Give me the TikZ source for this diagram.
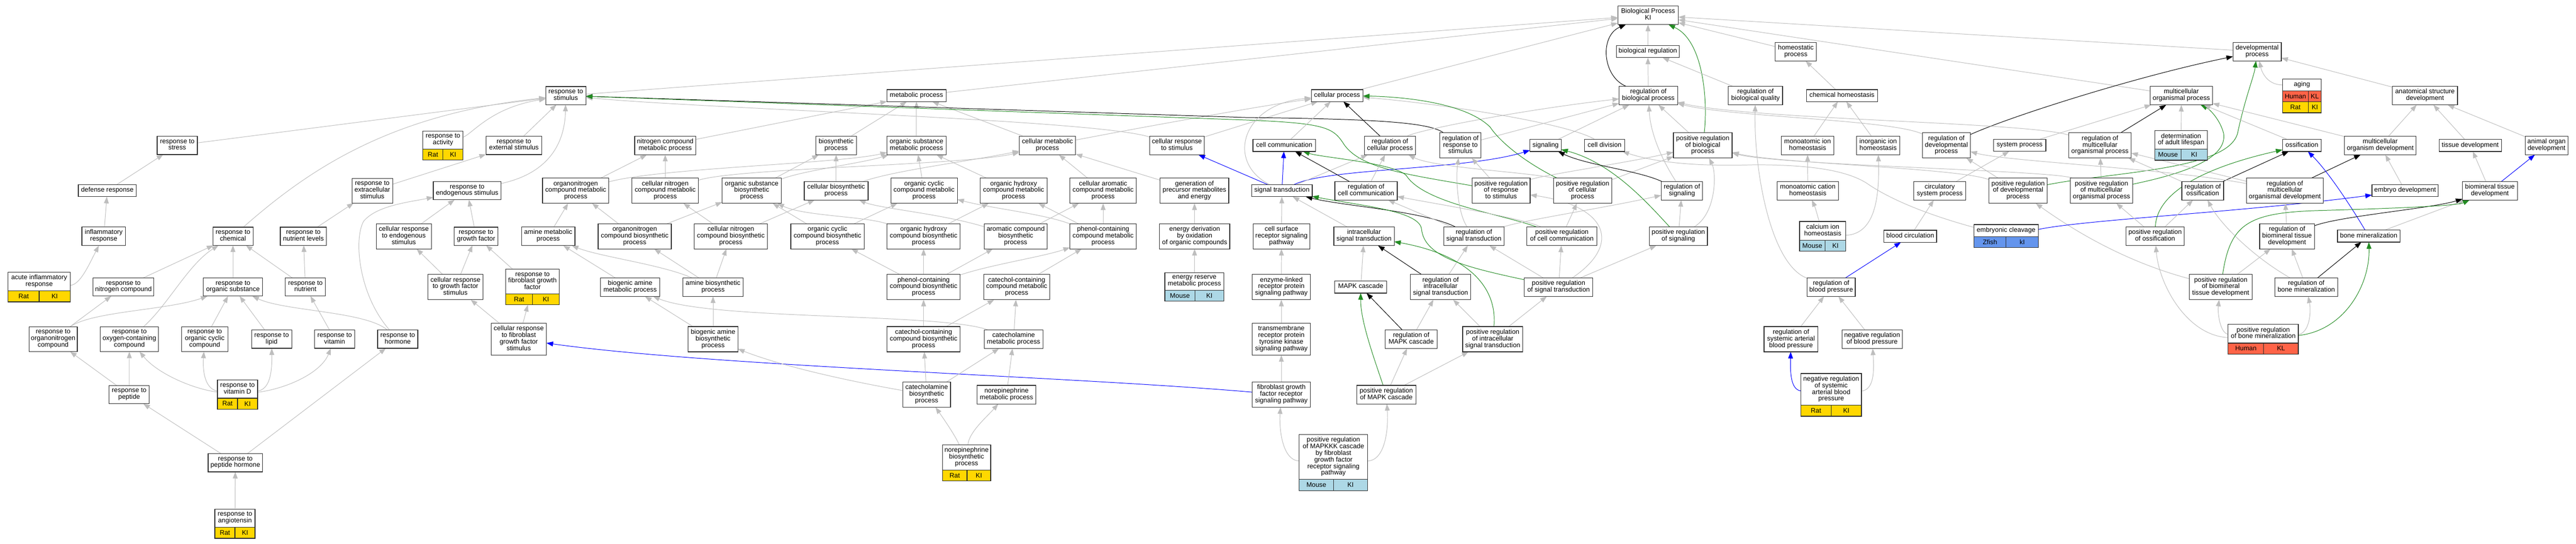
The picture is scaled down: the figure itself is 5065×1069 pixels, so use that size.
\documentclass[tikz,border=0pt]{standalone}
\usepackage{fontspec}
\setmainfont{Liberation Sans}
\usetikzlibrary{arrows.meta,fit}
\pgfdeclarelayer{bg}
\pgfdeclarelayer{edges}
\pgfsetlayers{bg,edges,main}
\definecolor{edgegray}{HTML}{BEBEBE}
\definecolor{nodeborder}{HTML}{2B2B2B}
\definecolor{greenc}{HTML}{228B22}
\definecolor{bluec}{HTML}{0000FF}
\definecolor{ratc}{HTML}{FFD700}
\definecolor{mousec}{HTML}{ADD8E6}
\definecolor{zfishc}{HTML}{6495ED}
\definecolor{humanc}{HTML}{FF6347}
\newcommand\gofont{\fontsize{13}{13}\selectfont}
\tikzset{
  term/.style={draw=nodeborder, line width=1.2pt, fill=white, font=\gofont, align=center,
    inner xsep=2pt, inner ysep=5.15pt, outer sep=0pt,
    execute at begin node=\strut, execute at end node=\strut},
  cell/.style={draw=nodeborder, line width=1.2pt, font=\gofont, inner sep=0pt, outer sep=0pt, minimum height=21.5pt},
  eg/.style={draw=edgegray, line width=1pt, -{Triangle[length=13pt,width=9.5pt]}},
  ek/.style={eg, draw=black},
  eG/.style={eg, draw=greenc},
  eB/.style={eg, draw=bluec}
}
\newcommand\GOn[5]{\node[term, minimum width=#4pt] (#1) at (#2,#3) {#5};}
\newcommand\GOa[9]{%
  \node[term, minimum width=#4pt] (#1T) at (#2,#3-10.75) {#5};
  \node[cell, fill=#6, minimum width={#9*#4pt}, anchor=north west] (#1L) at (#1T.south west) {#7};
  \node[cell, fill=#6, minimum width={(1-#9)*#4pt}, anchor=north east] (#1R) at (#1T.south east) {#8};
  \node[fit=(#1T)(#1L)(#1R), inner sep=0pt, outer sep=0pt] (#1) {};}
\begin{document}
\begin{tikzpicture}[x=1pt,y=-1pt]
\useasboundingbox (0,0) rectangle (5065,1069);
\begin{pgfonlayer}{bg}
\fill[white] (0,0) rectangle (5065,1069);
\end{pgfonlayer}

% ---------- response branch ----------
\GOn{stress}{348.5}{286}{79}{response to\\stress}
\GOn{defense}{211}{375}{114}{defense response}
\GOn{inflam}{204}{464.6}{86}{inflammatory\\response}
\GOa{acute}{77}{564.5}{122}{acute inflammatory\\response}{ratc}{Rat}{KI}{0.5}
\GOn{chem}{458}{464.6}{79}{response to\\chemical}
\GOn{nutlev}{596.5}{464.6}{91}{response to\\nutrient levels}
\GOn{extra}{732}{375}{80}{response to\\extracellular\\stimulus}
\GOn{cendo}{794}{464.6}{108}{cellular response\\to endogenous\\stimulus}
\GOn{nitro}{242.6}{564.5}{120}{response to\\nitrogen compound}
\GOn{orgsub}{458}{564.5}{116}{response to\\organic substance}
\GOn{nutr}{600.5}{564.5}{79}{response to\\nutrient}
\GOn{orgN}{104.5}{667}{95}{response to\\organonitrogen\\compound}
\GOn{oxy}{254.4}{667}{115}{response to\\oxygen-containing\\compound}
\GOn{orgcyc}{402.5}{667}{91}{response to\\organic cyclic\\compound}
\GOn{lipid}{534}{667}{79}{response to\\lipid}
\GOn{vit}{658}{667}{79}{response to\\vitamin}
\GOn{horm}{782}{667}{79}{response to\\hormone}
\GOn{pep}{254}{776}{79}{response to\\peptide}
\GOa{vitD}{467}{776}{79}{response to\\vitamin D}{ratc}{Rat}{KI}{0.5}
\GOn{pephorm}{462.7}{910}{107}{response to\\peptide hormone}
\GOa{angio}{462}{1030}{79}{response to\\angiotensin}{ratc}{Rat}{KI}{0.5}
\GOa{activity}{871}{286}{79}{response to\\activity}{ratc}{Rat}{KI}{0.5}
\GOn{rstim}{1112.5}{188}{79}{response to\\stimulus}
\GOn{extstim}{1010.5}{286}{110}{response to\\external stimulus}
\GOn{endo}{918.5}{375}{133}{response to\\endogenous stimulus}
\GOn{gf}{936}{464.6}{86}{response to\\growth factor}
\GOn{cgf}{895.5}{564.5}{108}{cellular response\\to growth factor\\stimulus}
\GOa{fgf}{1047}{564.5}{105.5}{response to\\fibroblast growth\\factor}{ratc}{Rat}{KI}{0.5}
\GOn{cfgf}{1020}{667}{109}{cellular response\\to fibroblast\\growth factor\\stimulus}

% ---------- metabolic branch ----------
\GOn{ncmp}{1308}{286}{120}{nitrogen compound\\metabolic process}
\GOn{onmp}{1132}{375}{130.5}{organonitrogen\\compound metabolic\\process}
\GOn{cncmp}{1308}{375}{130.5}{cellular nitrogen\\compound metabolic\\process}
\GOn{osbp}{1478}{375}{116}{organic substance\\biosynthetic\\process}
\GOn{bsp}{1644}{286}{80}{biosynthetic\\process}
\GOn{cbp}{1644}{375}{125.6}{cellular biosynthetic\\process}
\GOn{amp}{1078}{464.6}{105}{amine metabolic\\process}
\GOn{onbp}{1248}{464.6}{144}{organonitrogen\\compound biosynthetic\\process}
\GOn{cnbp}{1437}{464.6}{144}{cellular nitrogen\\compound biosynthetic\\process}
\GOn{ocbp}{1627}{464.6}{144}{organic cyclic\\compound biosynthetic\\process}
\GOn{bamp}{1239}{564.5}{116.5}{biogenic amine\\metabolic process}
\GOn{abp}{1402}{564.5}{118}{amine biosynthetic\\process}
\GOn{babp}{1402}{667}{98}{biogenic amine\\biosynthetic\\process}
\GOn{mp}{1802}{188}{116}{metabolic process}
\GOn{osmp}{1802}{286}{116}{organic substance\\metabolic process}
\GOn{cmp}{2059.5}{286}{111}{cellular metabolic\\process}
\GOn{crs}{2314}{286}{107.4}{cellular response\\to stimulus}
\GOn{ocmp}{1817}{375}{130.7}{organic cyclic\\compound metabolic\\process}
\GOn{ohmp}{1993}{375}{131}{organic hydroxy\\compound metabolic\\process}
\GOn{camp}{2169}{375}{130.6}{cellular aromatic\\compound metabolic\\process}
\GOn{gpme}{2348.5}{375}{135}{generation of\\precursor metabolites\\and energy}
\GOn{ohbp}{1816}{464.6}{144}{organic hydroxy\\compound biosynthetic\\process}
\GOn{acbp}{1997}{464.6}{124}{aromatic compound\\biosynthetic\\process}
\GOn{pcmp}{2169}{464.6}{130.6}{phenol-containing\\compound metabolic\\process}
\GOn{edoc}{2349}{464.6}{138}{energy derivation\\by oxidation\\of organic compounds}
\GOn{pcbp}{1816}{564.5}{144}{phenol-containing\\compound biosynthetic\\process}
\GOn{ccmp}{1999}{564.5}{130}{catechol-containing\\compound metabolic\\process}
\GOa{ermp}{2348.4}{564.5}{116}{energy reserve\\metabolic process}{mousec}{Mouse}{KI}{0.51}
\GOn{ccbp}{1816}{667}{144}{catechol-containing\\compound biosynthetic\\process}
\GOn{catmp}{1993}{667}{116}{catecholamine\\metabolic process}
\GOn{catbp}{1822}{776}{94}{catecholamine\\biosynthetic\\process}
\GOn{nemp}{1979}{776}{116}{norepinephrine\\metabolic process}
\GOa{nebp}{1900.5}{910}{95}{norepinephrine\\biosynthetic\\process}{ratc}{Rat}{KI}{0.51}

% ---------- signaling branch ----------
\GOn{cp}{2629}{188}{101.5}{cellular process}
\GOn{cc}{2525}{286}{123}{cell communication}
\GOn{rcp}{2733}{286}{101}{regulation of\\cellular process}
\GOn{rrs}{2871.5}{286}{81}{regulation of\\response to\\stimulus}
\GOn{sig}{3039}{286}{61.6}{signaling}
\GOn{cdiv}{3155}{286}{79}{cell division}
\GOn{BP}{3240.5}{30}{119}{Biological Process\\KI}
\GOn{breg}{3240}{101.5}{124}{biological regulation}
\GOn{rbp}{3241}{188}{115}{regulation of\\biological process}
\GOn{pbp}{3348}{286}{115.5}{positive regulation\\of biological\\process}
\GOn{st}{2520.5}{375}{119}{signal transduction}
\GOn{rcc}{2686}{375}{122.6}{regulation of\\cell communication}
\GOn{prrs}{2951.5}{375}{114}{positive regulation\\of response\\to stimulus}
\GOn{pcproc}{3111.7}{375}{114.6}{positive regulation\\of cellular\\process}
\GOn{rsig}{3307}{375}{81.6}{regulation of\\signaling}
\GOn{csrsp}{2519.7}{464.6}{112}{cell surface\\receptor signaling\\pathway}
\GOn{ist}{2682}{464.6}{118.6}{intracellular\\signal transduction}
\GOn{rst}{2898}{464.6}{118.3}{regulation of\\signal transduction}
\GOn{pcc}{3071}{464.6}{137.6}{positive regulation\\of cell communication}
\GOn{psig}{3300}{464.6}{114}{positive regulation\\of signaling}
\GOn{elrp}{2519.4}{564.5}{114}{enzyme-linked\\receptor protein\\signaling pathway}
\GOn{mapk}{2675.5}{564.5}{102}{MAPK cascade}
\GOn{rist}{2832.4}{564.5}{118.8}{regulation of\\intracellular\\signal transduction}
\GOn{pst}{3064.5}{564.5}{135}{positive regulation\\of signal transduction}
\GOn{rtk}{2519.4}{667}{114}{transmembrane\\receptor protein\\tyrosine kinase\\signaling pathway}
\GOn{rmapk}{2774.7}{667}{102}{regulation of\\MAPK cascade}
\GOn{pist}{2935}{667}{118.3}{positive regulation\\of intracellular\\signal transduction}
\GOn{fgfr}{2519.4}{776}{114}{fibroblast growth\\factor receptor\\signaling pathway}
\GOn{pmapk}{2725.7}{776}{116.6}{positive regulation\\of MAPK cascade}
\GOa{mapkkk}{2621.8}{909.4}{134.4}{positive regulation\\of MAPKKK cascade\\by fibroblast\\growth factor\\receptor signaling\\pathway}{mousec}{Mouse}{KI}{0.5}

% ---------- homeostasis / development ----------
\GOn{hp}{3531}{101.5}{81.4}{homeostatic\\process}
\GOn{rbq}{3451.7}{188}{106.6}{regulation of\\biological quality}
\GOn{chh}{3621.7}{188}{140}{chemical homeostasis}
\GOn{mih}{3554}{286}{103}{monoatomic ion\\homeostasis}
\GOn{iih}{3692.8}{286}{84.5}{inorganic ion\\homeostasis}
\GOn{rdp}{3827}{286}{94.4}{regulation of\\developmental\\process}
\GOn{sp}{3971}{286}{103}{system process}
\GOn{rmop}{4129}{286}{123}{regulation of\\multicellular\\organismal process}
\GOn{mch}{3554.5}{375}{120.3}{monoatomic cation\\homeostasis}
\GOn{csp}{3814}{375}{102.3}{circulatory\\system process}
\GOn{pdp}{3968}{375}{114.3}{positive regulation\\of developmental\\process}
\GOn{pmop}{4132}{375}{122.6}{positive regulation\\of multicellular\\organismal process}
\GOa{cah}{3583.9}{464.6}{91}{calcium ion\\homeostasis}{mousec}{Mouse}{KI}{0.55}
\GOn{bc}{3756}{464.6}{103.7}{blood circulation}
\GOa{ec}{3944.4}{464.3}{126.7}{embryonic cleavage}{zfishc}{Zfish}{kI}{0.5}
\GOn{rbpr}{3600.4}{564.5}{94.8}{regulation of\\blood pressure}
\GOn{rsabp}{3521.5}{667}{106.2}{regulation of\\systemic arterial\\blood pressure}
\GOn{nrbp}{3681}{667}{118.2}{negative regulation\\of blood pressure}
\GOa{nrsabp}{3600.5}{776.5}{119}{negative regulation\\of systemic\\arterial blood\\pressure}{ratc}{Rat}{KI}{0.5}
\GOn{dp}{4438}{101.5}{95}{developmental\\process}
\node[term, minimum width=76.3pt] (agingT) at (4526,167) {aging};
\node[cell, fill=humanc, minimum width=50.9pt, anchor=north west] (agingA) at (agingT.south west) {Human};
\node[cell, fill=humanc, minimum width=25.4pt, anchor=north east] (agingB) at (agingT.south east) {KL};
\node[cell, fill=ratc, minimum width=50.9pt, anchor=north west] (agingC) at (agingA.south west) {Rat};
\node[cell, fill=ratc, minimum width=25.4pt, anchor=north east] (agingD) at (agingB.south east) {KI};
\node[fit=(agingT)(agingC)(agingD), inner sep=0pt, outer sep=0pt] (aging) {};
\GOn{asd}{4768}{188}{128}{anatomical structure\\development}
\GOn{mop}{4289}{188}{123}{multicellular\\organismal process}
\GOa{dal}{4288.5}{286}{103}{determination\\of adult lifespan}{mousec}{Mouse}{KI}{0.5}
\GOn{ossif}{4526}{286}{76.3}{ossification}
\GOn{mod}{4680}{286}{141.4}{multicellular\\organism development}
\GOn{td}{4857}{286}{122.6}{tissue development}
\GOn{aod}{5007}{286}{84}{animal organ\\development}
\GOn{rossif}{4331}{375}{82}{regulation of\\ossification}
\GOn{rmod}{4492.5}{375}{151}{regulation of\\multicellular\\organismal development}
\GOn{embd}{4729}{375}{130.5}{embryo development}
\GOn{btd}{4895.6}{375}{108}{biomineral tissue\\development}
\GOn{por}{4237.3}{464.6}{114.7}{positive regulation\\of ossification}
\GOn{rbtd}{4496.8}{464.6}{107.6}{regulation of\\biomineral tissue\\development}
\GOn{bm}{4657.3}{464.3}{122.6}{bone mineralization}
\GOn{pbtd}{4366.5}{564.5}{123}{positive regulation\\of biomineral\\tissue development}
\GOn{rbm}{4534.6}{564.5}{123}{regulation of\\bone mineralization}
\GOa{pbm}{4450}{667}{138}{positive regulation\\of bone mineralization}{humanc}{Human}{KL}{0.506}

\begin{pgfonlayer}{edges}
% response branch
\draw[eg] (defense) -- (stress);
\draw[eg] (inflam) -- (defense);
\draw[eg] (acute) .. controls (158,560) and (175,520) .. (inflam);
\draw[eg] (stress) -- (rstim);
\draw[eg] (chem) .. controls (600,340) and (760,225) .. (rstim);
\draw[eg] (activity) .. controls (930,262) and (965,212) .. (rstim);
\draw[eg] (extstim) -- (rstim);
\draw[eg] (endo) .. controls (1060,345) and (1110,300) .. (rstim);
\draw[eg] (extra) -- (extstim);
\draw[eg] (nutlev) -- (extra);
\draw[eg] (cendo) -- (endo);
\draw[eg] (gf) -- (endo);
\draw[eg] (horm) .. controls (705,580) and (695,470) .. (715,435) .. controls (740,405) and (800,398) .. (endo);
\draw[eg] (cgf) -- (gf);
\draw[eg] (fgf) -- (gf);
\draw[eg] (cgf) -- (cendo);
\draw[eg] (cfgf) -- (cgf);
\draw[eg] (cfgf) -- (fgf);
\draw[eg] (nitro) -- (chem);
\draw[eg] (orgsub) -- (chem);
\draw[eg] (oxy) .. controls (330,600) and (370,520) .. (chem);
\draw[eg] (nutr) -- (chem);
\draw[eg] (nutr) -- (nutlev);
\draw[eg] (orgN) -- (nitro);
\draw[eg] (orgN) .. controls (180,612) and (330,610) .. (orgsub);
\draw[eg] (orgcyc) -- (orgsub);
\draw[eg] (lipid) -- (orgsub);
\draw[eg] (horm) .. controls (720,612) and (560,612) .. (orgsub);
\draw[eg] (vit) -- (nutr);
\draw[eg] (pep) -- (orgN);
\draw[eg] (pep) -- (oxy);
\draw[eg] (vitD) .. controls (380,765) and (310,735) .. (oxy);
\draw[eg] (vitD) .. controls (405,765) and (398,735) .. (orgcyc);
\draw[eg] (vitD) .. controls (530,765) and (535,735) .. (lipid);
\draw[eg] (vitD) .. controls (560,765) and (630,735) .. (vit);
\draw[eg] (pephorm) -- (pep);
\draw[eg] (pephorm) -- (horm);
\draw[eg] (angio) -- (pephorm);
\draw[eB] (fgfr) .. controls (2100,740) and (1400,720) .. (cfgf);
% metabolic branch
\draw[eg] (ncmp) -- (mp);
\draw[eg] (bsp) -- (mp);
\draw[eg] (osmp) -- (mp);
\draw[eg] (cmp) -- (mp);
\draw[eg] (onmp) -- (ncmp);
\draw[eg] (cncmp) -- (ncmp);
\draw[eg] (osbp) -- (bsp);
\draw[eg] (cbp) -- (bsp);
\draw[eg] (onmp) .. controls (1300,330) and (1650,322) .. (osmp);
\draw[eg] (osbp) .. controls (1580,335) and (1700,320) .. (osmp);
\draw[eg] (cncmp) .. controls (1450,330) and (1900,325) .. (cmp);
\draw[eg] (cbp) .. controls (1760,335) and (1900,318) .. (cmp);
\draw[eg] (amp) -- (onmp);
\draw[eg] (onbp) -- (onmp);
\draw[eg] (onbp) -- (osbp);
\draw[eg] (cnbp) -- (cncmp);
\draw[eg] (cnbp) -- (cbp);
\draw[eg] (ocbp) -- (osbp);
\draw[eg] (ocbp) -- (ocmp);
\draw[eg] (bamp) -- (amp);
\draw[eg] (abp) -- (onbp);
\draw[eg] (abp) -- (cnbp);
\draw[eg] (abp) .. controls (1300,520) and (1180,505) .. (amp);
\draw[eg] (babp) -- (abp);
\draw[eg] (babp) -- (bamp);
\draw[eg] (ocmp) -- (osmp);
\draw[eg] (ohmp) -- (osmp);
\draw[eg] (camp) -- (cmp);
\draw[eg] (gpme) -- (cmp);
\draw[eg] (ohbp) -- (ohmp);
\draw[eg] (ohbp) .. controls (1700,425) and (1580,425) .. (osbp);
\draw[eg] (acbp) -- (camp);
\draw[eg] (acbp) .. controls (1850,420) and (1730,410) .. (cbp);
\draw[eg] (pcmp) -- (camp);
\draw[eg] (pcmp) -- (ohmp);
\draw[eg] (pcmp) .. controls (2050,420) and (1950,410) .. (ocmp);
\draw[eg] (edoc) -- (gpme);
\draw[eg] (ermp) -- (edoc);
\draw[eg] (pcbp) -- (ohbp);
\draw[eg] (pcbp) -- (ocbp);
\draw[eg] (pcbp) -- (acbp);
\draw[eg] (pcbp) .. controls (1950,520) and (2050,505) .. (pcmp);
\draw[eg] (ccmp) -- (pcmp);
\draw[eg] (ccbp) -- (pcbp);
\draw[eg] (ccbp) -- (ccmp);
\draw[eg] (catmp) -- (ccmp);
\draw[eg] (catmp) .. controls (1850,615) and (1400,630) .. (bamp);
\draw[eg] (catbp) -- (ccbp);
\draw[eg] (catbp) -- (catmp);
\draw[eg] (catbp) .. controls (1700,755) and (1550,725) .. (babp);
\draw[eg] (nemp) -- (catmp);
\draw[eg] (nebp) .. controls (1880,860) and (1860,830) .. (catbp);
\draw[eg] (nebp) .. controls (1905,850) and (1940,820) .. (nemp);
% top
\draw[eg] (rstim) -- (BP);
\draw[eg] (mp) -- (BP);
\draw[eg] (cp) -- (BP);
\draw[eg] (breg) -- (BP);
\draw[eg] (hp) -- (BP);
\draw[eg] (dp) -- (BP);
\draw[eg] (mop) -- (BP);
\draw[ek] (rbp) .. controls (3150,150) and (3145,70) .. (BP);
\draw[eG] (pbp) .. controls (3358,200) and (3350,80) .. (BP);
\draw[eg] (rbp) -- (breg);
\draw[eg] (rbq) -- (breg);
% signaling branch
\draw[eg] (cmp) .. controls (2300,240) and (2500,205) .. (cp);
\draw[eg] (crs) -- (cp);
\draw[eg] (crs) .. controls (2150,235) and (1400,215) .. (rstim);
\draw[ek] (rrs) .. controls (2810,240) and (2700,234) .. (2450,231) -- (rstim);
\draw[eG] (prrs) .. controls (2760,342) and (2670,330) .. (2640,280) .. controls (2620,250) and (2600,242) .. (2450,236) -- (rstim);
\draw[eg] (cc) -- (cp);
\draw[eg] (st) .. controls (2410,320) and (2440,205) .. (cp);
\draw[ek] (rcp) -- (cp);
\draw[eg] (rcp) .. controls (2790,255) and (3000,215) .. (rbp);
\draw[eg] (rrs) -- (rbp);
\draw[eg] (sig) -- (rbp);
\draw[eg] (pbp) -- (rbp);
\draw[eg] (cdiv) .. controls (3080,240) and (2800,200) .. (cp);
\draw[eG] (pcproc) .. controls (3000,320) and (2950,280) .. (2930,250) .. controls (2880,200) and (2750,190) .. (cp);
\draw[eB] (st) -- (cc);
\draw[eB] (st) -- (crs);
\draw[eB] (st) .. controls (2610,330) and (2880,335) .. (sig);
\draw[eg] (st) -- (rcp);
\draw[eg] (rcc) -- (rcp);
\draw[ek] (rcc) -- (cc);
\draw[eG] (pcc) .. controls (2950,420) and (2800,400) .. (2765,345) .. controls (2740,320) and (2600,310) .. (cc);
\draw[eg] (prrs) -- (rrs);
\draw[eg] (prrs) .. controls (3030,345) and (3200,320) .. (pbp);
\draw[eg] (pcproc) -- (pbp);
\draw[eg] (pcproc.north west) .. controls (3000,338) and (2820,330) .. (rcp);
\draw[eg] (ist) -- (st);
\draw[eg] (csrsp) -- (st);
\draw[ek] (rst) .. controls (2800,415) and (2640,405) .. (st);
\draw[eG] (pst) .. controls (2880,525) and (2800,505) .. (2795,450) .. controls (2790,415) and (2680,405) .. (st);
\draw[eg] (rst) -- (rcc);
\draw[eg] (rst) .. controls (2866,420) and (2862,350) .. (rrs);
\draw[eg] (rst) .. controls (3000,432) and (3150,410) .. (rsig);
\draw[eg] (pcc) -- (pcproc);
\draw[eg] (pcc) .. controls (2990,428) and (2830,402) .. (rcc);
\draw[eg] (pst) -- (rst);
\draw[eg] (pst) -- (pcc);
\draw[eg] (pst) -- (psig);
\draw[eg] (pst) .. controls (3190,480) and (3160,405) .. (prrs);
\draw[eg] (psig) -- (rsig);
\draw[eG] (psig) .. controls (3240,400) and (3170,320) .. (sig);
\draw[eg] (psig) .. controls (3375,420) and (3375,340) .. (pbp);
\draw[eg] (rsig) .. controls (3265,310) and (3245,260) .. (rbp);
\draw[ek] (rsig) .. controls (3220,335) and (3120,325) .. (sig);
\draw[eg] (elrp) -- (csrsp);
\draw[eg] (rtk) -- (elrp);
\draw[eg] (fgfr) -- (rtk);
\draw[eg] (mapk) -- (ist);
\draw[ek] (rist) -- (ist);
\draw[eg] (rist) -- (rst);
\draw[ek] (rmapk) -- (mapk);
\draw[eg] (rmapk) -- (rist);
\draw[eg] (pist) -- (rist);
\draw[eg] (pist) -- (pst);
\draw[eG] (pist) .. controls (2945,560) and (2880,500) .. (ist);
\draw[eG] (pmapk) .. controls (2700,700) and (2675,630) .. (mapk);
\draw[eg] (pmapk) -- (rmapk);
\draw[eg] (pmapk) -- (pist);
\draw[eg] (mapkkk) .. controls (2520,905) and (2515,840) .. (fgfr);
\draw[eg] (mapkkk) .. controls (2725,905) and (2730,840) .. (pmapk);
% homeostasis
\draw[eg] (chh) -- (hp);
\draw[eg] (mih) -- (chh);
\draw[eg] (iih) -- (chh);
\draw[eg] (mch) -- (mih);
\draw[eg] (cah) .. controls (3578,440) and (3570,410) .. (mch);
\draw[eg] (cah) .. controls (3690,460) and (3695,380) .. (iih);
\draw[eg] (rbpr) .. controls (3480,520) and (3448,330) .. (rbq);
\draw[eB] (rbpr) -- (bc);
\draw[eg] (rsabp) -- (rbpr);
\draw[eg] (nrbp) -- (rbpr);
\draw[eB] (nrsabp) .. controls (3520,766) and (3520,730) .. (rsabp);
\draw[eg] (nrsabp) .. controls (3685,766) and (3685,730) .. (nrbp);
\draw[eg] (bc) -- (csp);
\draw[eg] (csp) -- (sp);
\draw[eg] (sp) -- (mop);
% development
\draw[ek] (rdp) .. controls (3950,230) and (4200,150) .. (dp);
\draw[eg] (rdp) .. controls (3720,235) and (3400,230) .. (rbp);
\draw[eg] (rmop) .. controls (3990,240) and (3450,236) .. (rbp);
\draw[eg] (pdp) -- (rdp);
\draw[eg] (pdp) .. controls (3850,330) and (3500,322) .. (pbp);
\draw[eg] (pmop) .. controls (4040,335) and (3500,325) .. (pbp);
\draw[eg] (pmop) -- (rmop);
\draw[eG] (pmop) .. controls (4300,340) and (4380,310) .. (4372,262) .. controls (4365,235) and (4345,215) .. (mop);
\draw[eG] (pdp) .. controls (4150,338) and (4385,335) .. (4400,260) .. controls (4415,190) and (4432,150) .. (dp);
\draw[eg] (pbtd) .. controls (4180,515) and (4080,455) .. (pdp);
\draw[eg] (ec) .. controls (3800,425) and (3720,395) .. (3670,360) .. controls (3630,335) and (3560,324) .. (3450,324) .. controls (3330,328) and (3250,318) .. (cdiv);
\draw[eB] (ec) .. controls (4100,432) and (4400,418) .. (embd);
\draw[eg] (asd) -- (dp);
\draw[eg] (agingT) .. controls (4460,167) and (4448,145) .. (dp);
\draw[eg] (dal) -- (mop);
\draw[ek] (rmop) -- (mop);
\draw[eg] (ossif) -- (mop);
\draw[eg] (mod) -- (mop);
\draw[eg] (mod) -- (asd);
\draw[eg] (td) -- (asd);
\draw[eg] (aod) -- (asd);
\draw[ek] (rossif) -- (ossif);
\draw[eg] (rossif) -- (rmop);
\draw[ek] (rmod) -- (mod);
\draw[eg] (rmod) -- (rmop);
\draw[eg] (rmod) .. controls (4250,330) and (3950,318) .. (rdp);
\draw[eg] (embd) -- (mod);
\draw[eg] (btd) -- (td);
\draw[eB] (btd) -- (aod);
\draw[eB] (bm) .. controls (4625,410) and (4580,340) .. (ossif);
\draw[eg] (bm) -- (btd);
\draw[eG] (por) .. controls (4240,380) and (4330,330) .. (ossif);
\draw[eg] (por) -- (rossif);
\draw[eg] (por) -- (pmop);
\draw[eg] (rbtd) -- (rmod);
\draw[ek] (rbtd) .. controls (4600,425) and (4780,410) .. (btd);
\draw[eg] (rbm) -- (rbtd);
\draw[ek] (rbm) -- (bm);
\draw[eg] (rbm) .. controls (4430,505) and (4365,440) .. (rossif);
\draw[eg] (pbtd) -- (rbtd);
\draw[eG] (pbtd) .. controls (4385,440) and (4420,418) .. (4560,414) .. controls (4700,410) and (4830,405) .. (btd);
\draw[eg] (pbm) .. controls (4365,655) and (4360,615) .. (pbtd);
\draw[eg] (pbm) .. controls (4540,655) and (4545,615) .. (rbm);
\draw[eg] (pbm) .. controls (4300,660) and (4245,560) .. (por);
\draw[eG] (pbm) .. controls (4610,650) and (4660,560) .. (bm);
\end{pgfonlayer}
\end{tikzpicture}
\end{document}
